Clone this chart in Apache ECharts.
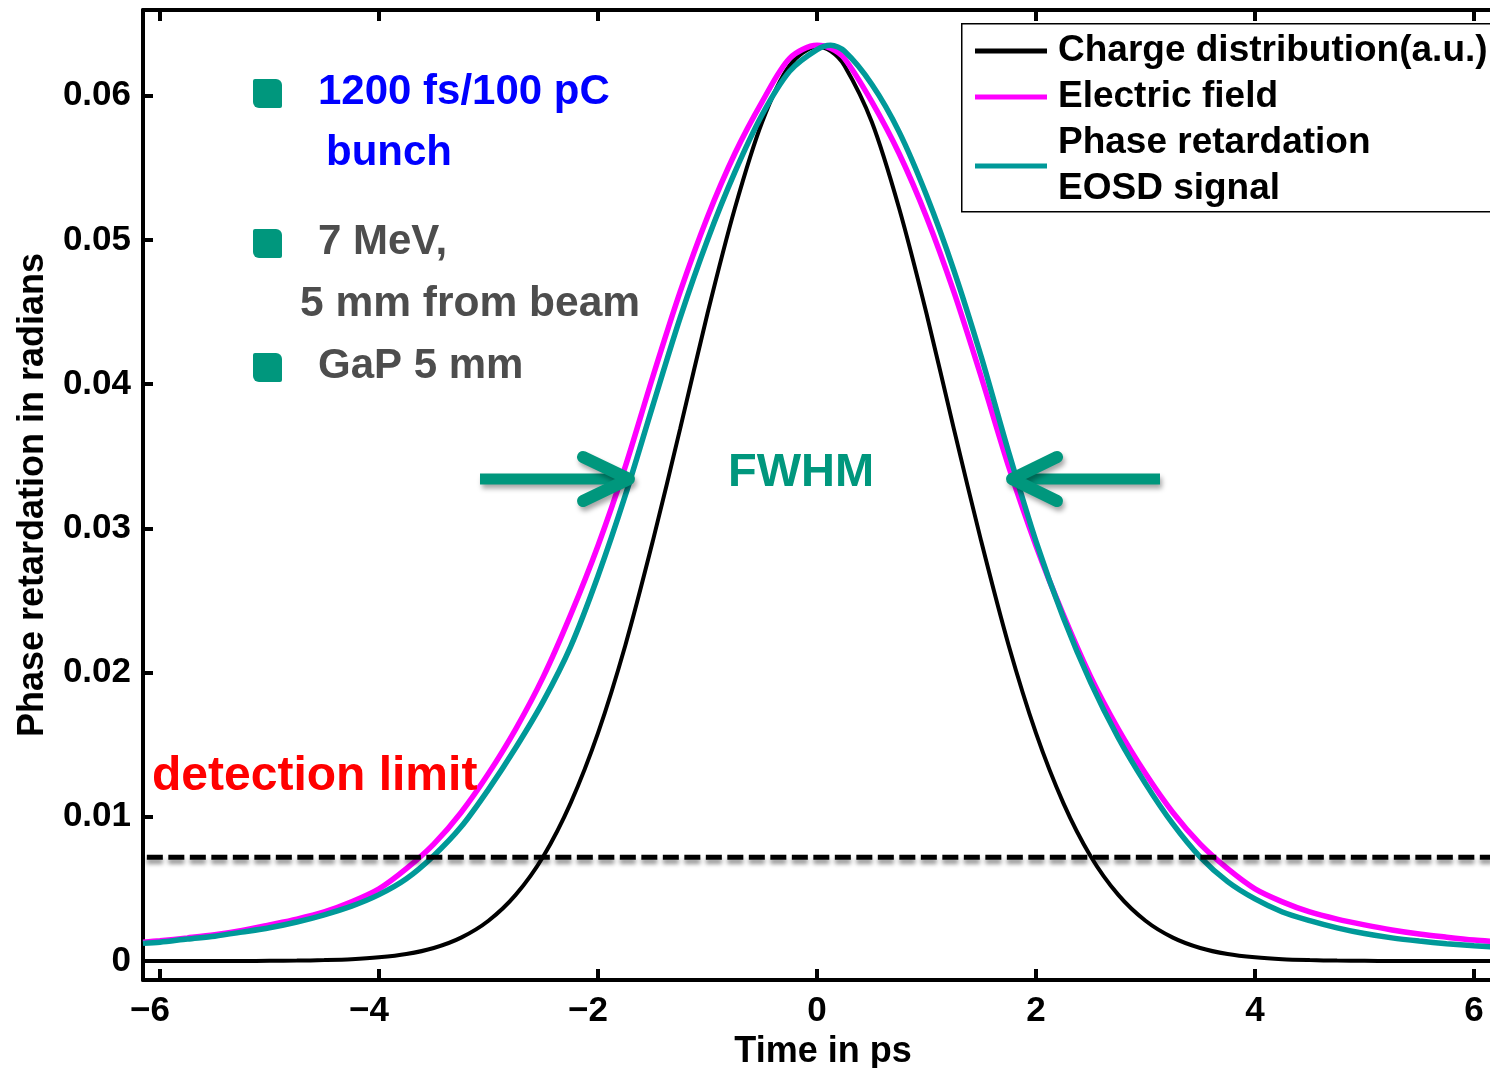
<!DOCTYPE html>
<html>
<head>
<meta charset="utf-8">
<script src="https://cdn.jsdelivr.net/npm/echarts@6/dist/echarts.min.js"></script>
<style>
html,body{margin:0;padding:0;background:#fff;}
#chart{width:1490px;height:1068px;}
</style>
</head>
<body>
<div id="chart"></div>
<script>
// ---- data ----
const xs = [-6.155, -6, -5.75, -5.5, -5.25, -5, -4.75, -4.5, -4.25, -4, -3.75, -3.5, -3.25, -3, -2.75, -2.5, -2.25, -2, -1.75, -1.5, -1.25, -1, -0.75, -0.5, -0.25, 0, 0.125, 0.25, 0.5, 0.75, 1, 1.25, 1.5, 1.75, 2, 2.25, 2.5, 2.75, 3, 3.25, 3.5, 3.75, 4, 4.25, 4.5, 4.75, 5, 5.25, 5.5, 5.75, 6, 6.17];
const charge = [0, 0, 0, 0, 0, 0.00001, 0.000025, 0.00006, 0.00012, 0.00025, 0.00048, 0.0009, 0.00162, 0.00279, 0.0046, 0.00725, 0.01095, 0.0158, 0.0219, 0.0291, 0.0369, 0.0449, 0.0522, 0.0582, 0.0621, 0.0634, 0.0631, 0.0621, 0.0582, 0.0522, 0.0449, 0.0369, 0.0291, 0.0219, 0.0158, 0.01095, 0.00725, 0.0046, 0.00279, 0.00162, 0.0009, 0.00048, 0.00025, 0.00012, 0.00006, 0.000025, 0.00001, 0, 0, 0, 0, 0];
const field = [0.0013, 0.0014, 0.0016, 0.00182, 0.00212, 0.0025, 0.0029, 0.0034, 0.0041, 0.0050, 0.0064, 0.0081, 0.0103, 0.0130, 0.0161, 0.0197, 0.0240, 0.0288, 0.0343, 0.0405, 0.0464, 0.0516, 0.0560, 0.0596, 0.0626, 0.0635, 0.0633, 0.0626, 0.0596, 0.0560, 0.0516, 0.0464, 0.0405, 0.0343, 0.0288, 0.0240, 0.0197, 0.0161, 0.0130, 0.0103, 0.0081, 0.0064, 0.0050, 0.0041, 0.0034, 0.0029, 0.0025, 0.00215, 0.00187, 0.00165, 0.00145, 0.00135];
const phase = [0.00122, 0.0013, 0.00152, 0.00172, 0.0020, 0.0023, 0.0027, 0.0032, 0.0038, 0.0046, 0.0057, 0.0073, 0.0093, 0.0119, 0.0148, 0.0180, 0.0218, 0.0267, 0.0323, 0.0385, 0.0446, 0.0500, 0.0547, 0.0587, 0.0617, 0.0632, 0.0635, 0.0631, 0.0608, 0.0575, 0.0531, 0.0479, 0.0419, 0.0353, 0.0291, 0.0238, 0.0193, 0.0155, 0.0123, 0.0095, 0.0072, 0.0055, 0.0043, 0.0034, 0.0028, 0.0023, 0.0019, 0.0016, 0.00138, 0.0012, 0.00105, 0.00097];
const detectionLimit = 0.0072;
const detectionRange = [-6.12, 6.17];
const seriesNames = ['Charge distribution(a.u.)', 'Electric field', 'Phase retardation\nEOSD signal'];
const xTickValues = [-6, -4, -2, 0, 2, 4, 6];
const xTickLabels = ['\u22126', '\u22124', '\u22122', '0', '2', '4', '6'];
const yTickValues = [0, 0.01, 0.02, 0.03, 0.04, 0.05, 0.06];
const yTickLabels = ['0', '0.01', '0.02', '0.03', '0.04', '0.05', '0.06'];
const xAxisTitle = 'Time in ps';
const yAxisTitle = 'Phase retardation in radians';

// ---- chart ----
const FONT = '"Liberation Sans", Arial, Helvetica, sans-serif';
const ANN = '#00977D';
const chart = echarts.init(document.getElementById('chart'), null, {renderer: 'canvas'});

function pairs(ys) { return xs.map((x, i) => [x, ys[i]]); }
function idxOf(arr, v) { return arr.findIndex(a => Math.abs(a - v) < 1e-9); }

const xMin = -6.155, xMax = 6.1735, yMin = -0.00132, yMax = 0.06595;

const axisLineStyle = {show: true, onZero: false, lineStyle: {color: '#000', width: 4}};
const labelFont = {fontSize: 35, fontWeight: 'bold', fontFamily: FONT, color: '#000'};
const arrowShadow = {shadowColor: 'rgba(0,0,0,0.35)', shadowBlur: 5, shadowOffsetX: 2, shadowOffsetY: 4};

const option = {
  animation: false,
  backgroundColor: '#fff',
  grid: {left: 143, right: -3, top: 10, bottom: 88, containLabel: false, outerBoundsMode: 'none'},
  legend: {
    data: seriesNames,
    orient: 'vertical',
    left: 975, top: 28,
    padding: 0, itemGap: 0,
    itemWidth: 72, itemHeight: 5,
    icon: 'rect',
    selectedMode: false,
    z: 6,
    textStyle: {fontSize: 37, fontWeight: 'bold', fontFamily: FONT, color: '#000', lineHeight: 46, padding: [0, 0, 0, 6]}
  },
  xAxis: [{
    type: 'value', min: xMin, max: xMax, position: 'bottom',
    axisLine: axisLineStyle,
    axisTick: {show: true, inside: true, length: 11, customValues: xTickValues, lineStyle: {color: '#000', width: 4}},
    axisLabel: {
      show: true, margin: 14, customValues: xTickValues,
      formatter: v => { const i = idxOf(xTickValues, v); const t = xTickLabels[i]; return v < 0 ? '{n|' + t + '}' : '{p|' + t + '}'; },
      rich: {
        n: Object.assign({padding: [0, 20, 0, 0]}, labelFont),
        p: Object.assign({}, labelFont)
      }
    },
    splitLine: {show: false},
    name: xAxisTitle, nameLocation: 'middle', nameGap: 50,
    nameTextStyle: {fontSize: 36, fontWeight: 'bold', fontFamily: FONT, color: '#000', padding: [0, 0, 0, 10]}
  }, {
    type: 'value', min: xMin, max: xMax, position: 'top',
    axisLine: axisLineStyle,
    axisTick: {show: true, inside: true, length: 11, customValues: xTickValues, lineStyle: {color: '#000', width: 4}},
    axisLabel: {show: false},
    splitLine: {show: false}
  }],
  yAxis: [{
    type: 'value', min: yMin, max: yMax, position: 'left',
    axisLine: axisLineStyle,
    axisTick: {show: true, inside: true, length: 10, customValues: yTickValues, lineStyle: {color: '#000', width: 4}},
    axisLabel: Object.assign({
      show: true, margin: 12, customValues: yTickValues,
      formatter: v => yTickLabels[idxOf(yTickValues, v)]
    }, labelFont),
    splitLine: {show: false},
    name: yAxisTitle, nameLocation: 'middle', nameGap: 92, nameRotate: 90,
    nameTextStyle: {fontSize: 36, fontWeight: 'bold', fontFamily: FONT, color: '#000'}
  }],
  series: [{
    name: seriesNames[0], type: 'line', data: pairs(charge), showSymbol: false, symbol: 'none',
    smooth: 0.3, itemStyle: {color: '#000'}, lineStyle: {color: '#000', width: 4}, z: 2
  }, {
    name: seriesNames[1], type: 'line', data: pairs(field), showSymbol: false, symbol: 'none',
    smooth: 0.3, itemStyle: {color: '#FF00FF'}, lineStyle: {color: '#FF00FF', width: 5.5}, z: 3
  }, {
    name: seriesNames[2], type: 'line', data: pairs(phase), showSymbol: false, symbol: 'none',
    smooth: 0.3, itemStyle: {color: '#009999'}, lineStyle: {color: '#009999', width: 5.5}, z: 4
  }, {
    name: 'detection limit', type: 'line', silent: true, showSymbol: false, symbol: 'none',
    data: detectionRange.map(x => [x, detectionLimit]),
    lineStyle: {color: '#000', width: 5, type: [16, 5.5], shadowColor: 'rgba(0,0,0,0.45)', shadowBlur: 4, shadowOffsetY: 4},
    z: 5
  }],
  graphic: [
    // legend frame
    {type: 'rect', left: 961, top: 23, z: 5, shape: {width: 600, height: 188}, style: {fill: '#fff', stroke: '#000', lineWidth: 1.5}},
    // bullet squares
    {type: 'rect', x: 253, y: 79, z: 10, shape: {width: 29, height: 29, r: [2, 6, 2, 6]}, style: {fill: ANN}},
    {type: 'rect', x: 253, y: 229, z: 10, shape: {width: 29, height: 29, r: [2, 6, 2, 6]}, style: {fill: ANN}},
    {type: 'rect', x: 253, y: 353, z: 10, shape: {width: 29, height: 29, r: [2, 6, 2, 6]}, style: {fill: ANN}},
    // annotation texts
    {type: 'text', x: 318, y: 92, z: 10, style: {text: '1200 fs/100 pC', fill: '#0000FF', font: 'bold 42px ' + FONT, verticalAlign: 'middle'}},
    {type: 'text', x: 326, y: 153, z: 10, style: {text: 'bunch', fill: '#0000FF', font: 'bold 42px ' + FONT, verticalAlign: 'middle'}},
    {type: 'text', x: 318, y: 242, z: 10, style: {text: '7 MeV,', fill: '#4D4D4D', font: 'bold 42px ' + FONT, verticalAlign: 'middle'}},
    {type: 'text', x: 300, y: 304, z: 10, style: {text: '5 mm from beam', fill: '#4D4D4D', font: 'bold 42.5px ' + FONT, verticalAlign: 'middle'}},
    {type: 'text', x: 318, y: 366, z: 10, style: {text: 'GaP 5 mm', fill: '#4D4D4D', font: 'bold 42px ' + FONT, verticalAlign: 'middle'}},
    {type: 'text', x: 152, y: 777, z: 10, style: {text: 'detection limit', fill: '#FF0000', font: 'bold 48px ' + FONT, verticalAlign: 'middle'}},
    {type: 'text', x: 728, y: 473, z: 10, style: {text: 'FWHM', fill: ANN, font: 'bold 47px ' + FONT, verticalAlign: 'middle'}},
    // FWHM arrows
    {type: 'polyline', z: 9, shape: {points: [[480, 479], [626, 479]]},
     style: Object.assign({stroke: ANN, lineWidth: 11, fill: null}, arrowShadow)},
    {type: 'polyline', z: 9, shape: {points: [[583, 457], [629, 479], [583, 501]]},
     style: Object.assign({stroke: ANN, lineWidth: 12, fill: null, lineCap: 'round', lineJoin: 'round'}, arrowShadow)},
    {type: 'polyline', z: 9, shape: {points: [[1160, 479], [1016, 479]]},
     style: Object.assign({stroke: ANN, lineWidth: 11, fill: null}, arrowShadow)},
    {type: 'polyline', z: 9, shape: {points: [[1057, 457], [1012, 479], [1057, 501]]},
     style: Object.assign({stroke: ANN, lineWidth: 12, fill: null, lineCap: 'round', lineJoin: 'round'}, arrowShadow)}
  ]
};
chart.setOption(option);
</script>
</body>
</html>
